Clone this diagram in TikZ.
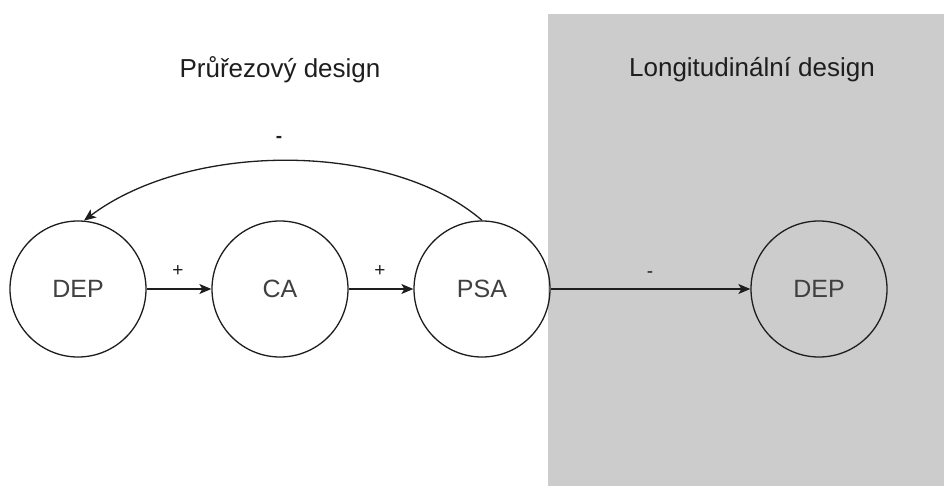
\documentclass[tikz,border=0pt]{standalone}
\usepackage{fontspec}
\setmainfont{Liberation Sans}
\usetikzlibrary{arrows.meta}
\definecolor{panelgray}{RGB}{204,204,204}
\definecolor{ink}{RGB}{30,30,30}
\tikzset{
  state/.style={circle, draw=ink, line width=1.3pt, minimum size=136pt, inner sep=0pt,
    font=\fontsize{25}{30}\selectfont, text=ink!85},
  link/.style={draw=ink, line width=1.3pt, -{Stealth[length=12pt,width=10pt,inset=3pt]}},
  sign/.style={inner sep=0pt, font=\fontsize{19}{22}\selectfont, text=ink},
  title/.style={anchor=base, font=\fontsize{26}{31}\selectfont, text=ink}
}
\begin{document}
\begin{tikzpicture}[x=1pt,y=-1pt]
  \fill[white] (0,0) rectangle (944,486);
  \useasboundingbox (0,0) rectangle (944,486);
  \fill[panelgray] (548,14) rectangle (944,486);

  \node[title] (t1) at (280,78) {Průřezový design};
  \node[title] (t2) at (752,77) {Longitudinální design};

  \node[state] (dep1) at (78,289) {DEP};
  \node[state] (ca) at (280,289) {CA};
  \node[state] (psa) at (482,289) {PSA};
  \node[state] (dep2) at (819,289) {DEP};

  \draw[link] (dep1) -- (ca);
  \draw[link] (ca) -- (psa);
  \draw[link] (psa) -- (dep2);
  \draw[link] (psa.north) .. controls (390,141) and (190,141) .. (dep1.85);

  \node[sign] (s1) at (178,271) {+};
  \node[sign] (s2) at (380,271) {+};
  \node[sign] (s3) at (650,275) {-};
  \node[sign, font=\bfseries\fontsize{19}{22}\selectfont] (s4) at (279,139) {-};
\end{tikzpicture}
\end{document}
